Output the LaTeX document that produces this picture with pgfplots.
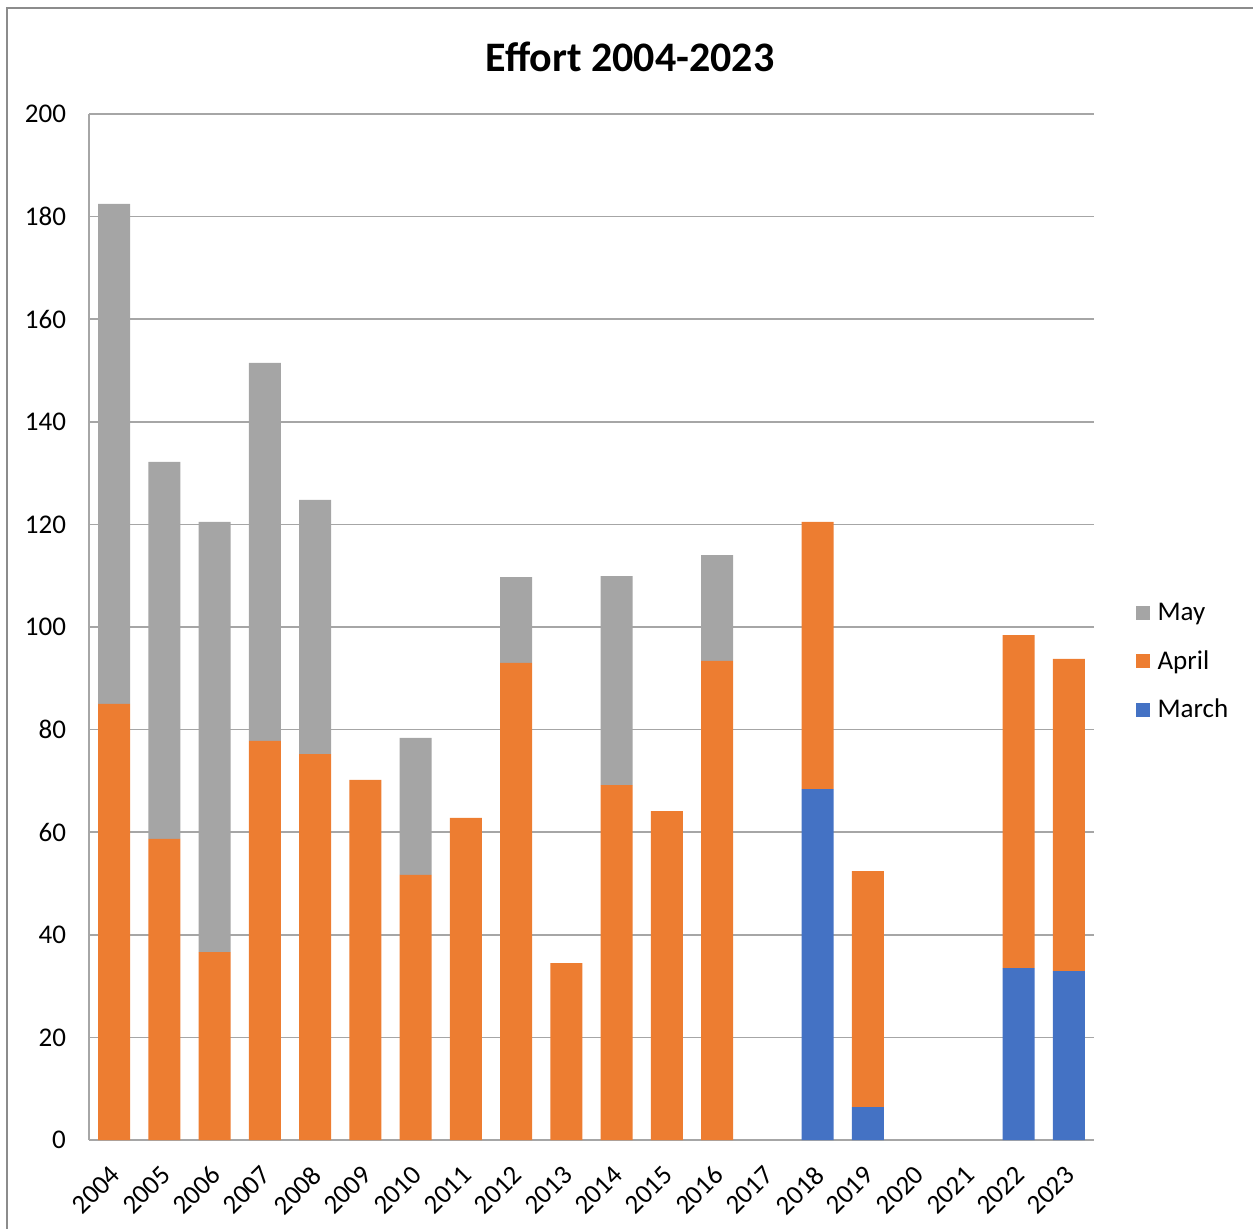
\documentclass[border=0pt]{standalone}
\usepackage{fontspec}
\setmainfont{Carlito}
\usepackage{pgfplots}
\pgfplotsset{compat=1.18}

\definecolor{cMarch}{HTML}{4472C4}
\definecolor{cApril}{HTML}{ED7D31}
\definecolor{cMay}{HTML}{A5A5A5}
\definecolor{gridgray}{HTML}{A6A6A6}
\definecolor{framegray}{HTML}{8C8C8C}

\begin{document}
\begin{tikzpicture}
% page frame: 1 px of the layout = 0.5pt
\path[use as bounding box] (0,0) rectangle (626.5pt,-614.5pt);
\draw[framegray, line width=0.8pt] (3.5pt,-614.5pt) -- (3.5pt,-4pt) -- (626.5pt,-4pt);

\node[font=\bfseries\fontsize{21}{24}\selectfont] at (315pt,-28.5pt) {Effort 2004-2023};

\begin{axis}[
  at={(44.5pt,-570pt)}, anchor=south west,
  scale only axis,
  width=502.5pt, height=513pt,
  ybar stacked,
  bar width=16pt,
  xmin=-0.5, xmax=19.5,
  ymin=0, ymax=200,
  ytick={0,20,...,200},
  xtick={0,...,19},
  xticklabels={2004,2005,2006,2007,2008,2009,2010,2011,2012,2013,2014,2015,2016,2017,2018,2019,2020,2021,2022,2023},
  axis x line=bottom, axis y line=left,
  axis line style={gridgray, line width=1pt, -},
  major tick length=0pt,
  ymajorgrids,
  grid style={gridgray, line width=0.8pt},
  /pgf/number format/assume math mode=true,
  tick label style={font=\fontsize{13.5}{16}\selectfont, black},
  yticklabel style={anchor=east, xshift=-8pt},
  xticklabel style={anchor=north east, inner sep=1pt, xshift=-2.5pt, yshift=-10.5pt, rotate=45},
  reverse legend,
  legend style={at={(1.035,0.466)}, anchor=west, draw=none, fill=none,
    font=\fontsize{13.5}{16}\selectfont, row sep=9.5pt,
    /tikz/every odd column/.style={column sep=2pt}},
  legend cell align=left,
  legend image code/.code={\fill[#1] (0pt,-3.5pt) rectangle (7pt,3.5pt);},
]
\addplot+[fill=cMarch, draw=none] coordinates {
  (0,0) (1,0) (2,0) (3,0) (4,0) (5,0) (6,0) (7,0) (8,0) (9,0)
  (10,0) (11,0) (12,0) (13,0) (14,68.4) (15,6.4) (16,0) (17,0) (18,33.5) (19,32.9)};
\addlegendentry{March}
\addplot+[fill=cApril, draw=none] coordinates {
  (0,85.0) (1,58.7) (2,36.6) (3,77.8) (4,75.2) (5,70.2) (6,51.7) (7,62.8) (8,93.0) (9,34.5)
  (10,69.2) (11,64.1) (12,93.4) (13,0) (14,52.1) (15,46.0) (16,0) (17,0) (18,64.9) (19,60.9)};
\addlegendentry{April}
\addplot+[fill=cMay, draw=none] coordinates {
  (0,97.5) (1,73.5) (2,83.9) (3,73.7) (4,49.6) (5,0) (6,26.7) (7,0) (8,16.7) (9,0)
  (10,40.7) (11,0) (12,20.6) (13,0) (14,0) (15,0) (16,0) (17,0) (18,0) (19,0)};
\addlegendentry{May}
\end{axis}
\end{tikzpicture}
\end{document}
